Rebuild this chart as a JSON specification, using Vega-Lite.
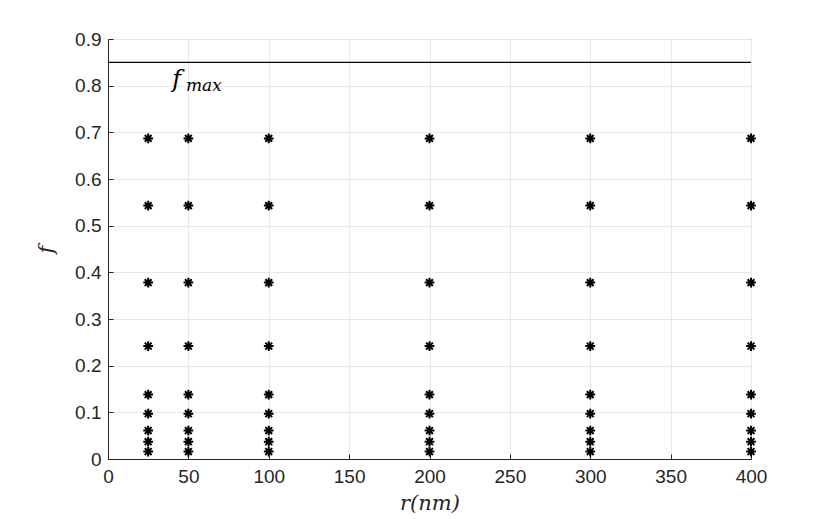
{
  "$schema": "https://vega.github.io/schema/vega-lite/v6.json",
  "autosize": {"type": "none"},
  "padding": {"left": 108, "top": 39, "right": 79, "bottom": 60},
  "width": 643,
  "height": 420,
  "background": "white",
  "config": {
    "view": {"stroke": "#262626", "strokeWidth": 1},
    "axis": {
      "labelFont": "Liberation Sans",
      "labelFontSize": 19,
      "labelColor": "#262626",
      "labelFlush": false,
      "domainColor": "#262626",
      "tickColor": "#262626",
      "tickSize": -5,
      "gridColor": "#e8e8e8",
      "titleFont": "DejaVu Serif",
      "titleFontStyle": "italic",
      "titleFontWeight": "normal",
      "titleFontSize": 21,
      "titleColor": "#262626"
    }
  },
  "datasets": {
    "pts": [
      {"r": 25, "f": 0.016}, {"r": 25, "f": 0.037}, {"r": 25, "f": 0.061}, {"r": 25, "f": 0.097}, {"r": 25, "f": 0.138}, {"r": 25, "f": 0.242}, {"r": 25, "f": 0.378}, {"r": 25, "f": 0.543}, {"r": 25, "f": 0.687},
      {"r": 50, "f": 0.016}, {"r": 50, "f": 0.037}, {"r": 50, "f": 0.061}, {"r": 50, "f": 0.097}, {"r": 50, "f": 0.138}, {"r": 50, "f": 0.242}, {"r": 50, "f": 0.378}, {"r": 50, "f": 0.543}, {"r": 50, "f": 0.687},
      {"r": 100, "f": 0.016}, {"r": 100, "f": 0.037}, {"r": 100, "f": 0.061}, {"r": 100, "f": 0.097}, {"r": 100, "f": 0.138}, {"r": 100, "f": 0.242}, {"r": 100, "f": 0.378}, {"r": 100, "f": 0.543}, {"r": 100, "f": 0.687},
      {"r": 200, "f": 0.016}, {"r": 200, "f": 0.037}, {"r": 200, "f": 0.061}, {"r": 200, "f": 0.097}, {"r": 200, "f": 0.138}, {"r": 200, "f": 0.242}, {"r": 200, "f": 0.378}, {"r": 200, "f": 0.543}, {"r": 200, "f": 0.687},
      {"r": 300, "f": 0.016}, {"r": 300, "f": 0.037}, {"r": 300, "f": 0.061}, {"r": 300, "f": 0.097}, {"r": 300, "f": 0.138}, {"r": 300, "f": 0.242}, {"r": 300, "f": 0.378}, {"r": 300, "f": 0.543}, {"r": 300, "f": 0.687},
      {"r": 400, "f": 0.016}, {"r": 400, "f": 0.037}, {"r": 400, "f": 0.061}, {"r": 400, "f": 0.097}, {"r": 400, "f": 0.138}, {"r": 400, "f": 0.242}, {"r": 400, "f": 0.378}, {"r": 400, "f": 0.543}, {"r": 400, "f": 0.687}
    ],
    "fmax": [{"f": 0.85}],
    "lbl1": [{"r": 40, "f": 0.8, "t": "f"}],
    "lbl2": [{"r": 48.5, "f": 0.8, "t": "max"}]
  },
  "layer": [
    {
      "data": {"name": "pts"},
      "mark": {
        "type": "point",
        "shape": "M-1,0L1,0M0,-1L0,1M-0.7,-0.7L0.7,0.7M-0.7,0.7L0.7,-0.7",
        "filled": false,
        "stroke": "black",
        "strokeWidth": 2,
        "size": 95,
        "opacity": 1
      },
      "encoding": {
        "x": {
          "field": "r", "type": "quantitative",
          "scale": {"domain": [0, 400], "nice": false},
          "axis": {"values": [0, 50, 100, 150, 200, 250, 300, 350, 400], "title": "r(nm)", "labelPadding": 13, "titlePadding": 6}
        },
        "y": {
          "field": "f", "type": "quantitative",
          "scale": {"domain": [0, 0.9], "nice": false},
          "axis": {"values": [0, 0.1, 0.2, 0.3, 0.4, 0.5, 0.6, 0.7, 0.8, 0.9], "format": ".1~f", "title": "f", "labelPadding": 12, "titlePadding": 18}
        }
      }
    },
    {
      "data": {"name": "fmax"},
      "mark": {"type": "rule", "color": "black", "strokeWidth": 1.2},
      "encoding": {"y": {"field": "f", "type": "quantitative"}}
    },
    {
      "data": {"name": "lbl1"},
      "mark": {"type": "text", "font": "DejaVu Serif", "fontStyle": "italic", "fontSize": 24, "align": "left", "baseline": "alphabetic", "color": "black", "dy": 1},
      "encoding": {"x": {"field": "r", "type": "quantitative"}, "y": {"field": "f", "type": "quantitative"}, "text": {"field": "t"}}
    },
    {
      "data": {"name": "lbl2"},
      "mark": {"type": "text", "font": "DejaVu Serif", "fontStyle": "italic", "fontSize": 17, "align": "left", "baseline": "alphabetic", "color": "black", "dy": 5},
      "encoding": {"x": {"field": "r", "type": "quantitative"}, "y": {"field": "f", "type": "quantitative"}, "text": {"field": "t"}}
    }
  ]
}
